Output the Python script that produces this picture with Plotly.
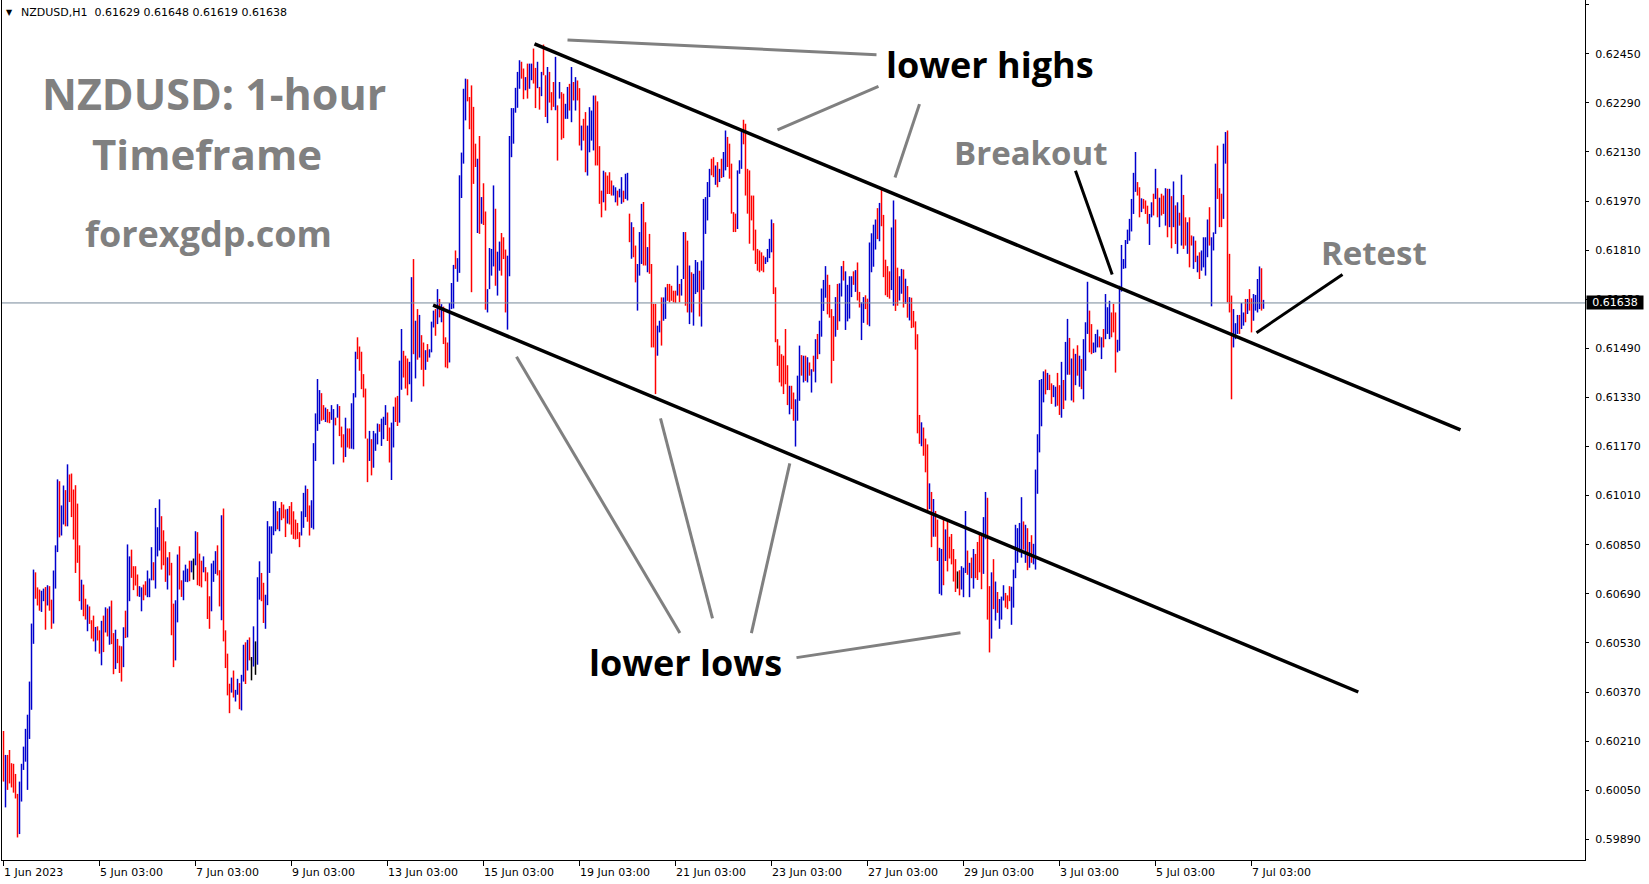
import plotly.graph_objects as go

# ---------------- data (bar high / low in price points, 1e-5) ----------------
highs = [
    60243, 60165, 60165, 60181, 60138, 60136, 60103, 60038, 60078, 60136,
    60192, 60250, 60296, 60404, 60593, 60769, 60760, 60711, 60704, 60700,
    60707, 60712, 60718, 60715, 60671, 60766, 60848, 61063, 61057, 60978,
    61043, 61028, 61112, 61079, 61082, 61030, 61044, 60984, 60848, 60736,
    60720, 60674, 60655, 60649, 60604, 60619, 60582, 60584, 60571, 60602,
    60619, 60646, 60642, 60649, 60668, 60562, 60573, 60543, 60521, 60519,
    60581, 60635, 60851, 60812, 60834, 60780, 60780, 60753, 60715, 60711,
    60720, 60731, 60766, 60740, 60842, 60793, 60970, 60907, 60998, 60943,
    60897, 60861, 60809, 60826, 60791, 60658, 60669, 60818, 60845, 60734,
    60766, 60785, 60772, 60798, 60798, 60805, 60894, 60891, 60821, 60798,
    60812, 60777, 60760, 60682, 60789, 60798, 60829, 60848, 60767, 60946,
    60968, 60571, 60495, 60397, 60417, 60440, 60377, 60413, 60399, 60426,
    60524, 60532, 60540, 60548, 60484, 60584, 60535, 60744, 60796, 60758,
    60726, 60687, 60927, 60910, 60910, 60992, 60992, 60959, 60970, 60989,
    60981, 60965, 60967, 60976, 60989, 60959, 60932, 60921, 60891, 60959,
    61019, 61043, 61032, 60978, 60995, 61181, 61278, 61390, 61354, 61344,
    61305, 61297, 61292, 61283, 61305, 61292, 61264, 61308, 61302, 61235,
    61210, 61264, 61229, 61229, 61311, 61344, 61479, 61526, 61496, 61479,
    61406, 61359, 61196, 61221, 61194, 61221, 61213, 61245, 61243, 61261,
    61267, 61305, 61281, 61232, 61248, 61300, 61330, 61335, 61450, 61553,
    61482, 61466, 61457, 61446, 61722, 61781, 61580, 61618, 61599, 61533,
    61509, 61484, 61504, 61487, 61577, 61613, 61618, 61683, 61651, 61634,
    61626, 61526, 61509, 61638, 61703, 61762, 61809, 61784, 62054, 62128,
    62336, 62369, 62367, 62309, 62347, 62277, 62157, 62108, 62182, 61983,
    62028, 61936, 61683, 61817, 61814, 62021, 61945, 61805, 61838, 61866,
    61852, 61812, 61792, 62182, 62273, 62273, 62339, 62391, 62429, 62424,
    62402, 62374, 62418, 62418, 62418, 62467, 62404, 62424, 62342, 62391,
    62480, 62380, 62407, 62391, 62325, 62358, 62440, 62282, 62358, 62325,
    62320, 62287, 62342, 62352, 62407, 62358, 62374, 62363, 62338, 62216,
    62238, 62260, 62216, 62276, 62265, 62314, 62314, 62295, 62149, 62004,
    62069, 62064, 62053, 62064, 62037, 62021, 62015, 62004, 62010, 62048,
    62004, 62059, 62062, 61929, 61901, 61885, 61825, 61765, 61869, 61961,
    61967, 61901, 61820, 61863, 61765, 61635, 61635, 61564, 61580, 61656,
    61656, 61689, 61700, 61700, 61694, 61678, 61678, 61760, 61700, 61716,
    61869, 61869, 61841, 61760, 61738, 61733, 61778, 61771, 61743, 61776,
    61977, 61983, 62032, 62075, 62108, 62113, 62086, 62097, 62075, 62108,
    62130, 62200, 62179, 62157, 62092, 61934, 61929, 62070, 62103, 62195,
    62235, 62222, 62075, 62070, 61988, 61988, 61877, 61814, 61809, 61803,
    61792, 61787, 61814, 61847, 61910, 61898, 61689, 61520, 61499, 61471,
    61466, 61553, 61435, 61368, 61368, 61346, 61324, 61401, 61499, 61468,
    61466, 61466, 61461, 61444, 61422, 61466, 61520, 61537, 61580, 61685,
    61713, 61758, 61730, 61697, 61618, 61595, 61657, 61700, 61702, 61758,
    61775, 61741, 61697, 61725, 61725, 61741, 61745, 61770, 61674, 61640,
    61657, 61663, 61652, 61835, 61865, 61893, 61910, 61947, 61964, 62011,
    61925, 61779, 61758, 61741, 61884, 61972, 61910, 61753, 61725, 61749,
    61747, 61717, 61693, 61657, 61655, 61612, 61578, 61536, 61273, 61249,
    61232, 61196, 61177, 61050, 61022, 60999, 60960, 60932, 60840, 60836,
    60938, 60900, 60926, 60876, 60885, 60836, 60803, 60763, 60767, 60780,
    60775, 60960, 60831, 60791, 60808, 60836, 60820, 60859, 60890, 60881,
    60940, 61022, 61003, 60715, 60760, 60803, 60730, 60696, 60673, 60681,
    60718, 60693, 60685, 60715, 60713, 60769, 60915, 60904, 60921, 61005,
    60926, 60915, 60904, 60859, 60881, 60853, 61095, 61210, 61387, 61390,
    61415, 61421, 61410, 61404, 61376, 61370, 61365, 61410, 61370, 61446,
    61387, 61511, 61586, 61524, 61457, 61489, 61472, 61500, 61466, 61455,
    61520, 61575, 61707, 61613, 61569, 61509, 61537, 61551, 61529, 61526,
    61553, 61667, 61624, 61645, 61607, 61635, 61607, 61518, 61694, 61827,
    61781, 61843, 61877, 61912, 61977, 62062, 62130, 62032, 62015, 61979,
    61977, 61972, 61955, 61928, 61966, 61994, 62075, 62012, 61981, 61994,
    61988, 62012, 62010, 62010, 61986, 62034, 61956, 61966, 61932, 62056,
    61990, 61917, 61901, 61917, 61858, 61855, 61841, 61792, 61803, 61809,
    61852, 61852, 61910, 61950, 61852, 61868, 62092, 62151, 62012, 61994,
    62157, 62195, 62200, 61798, 61662, 61618, 61572, 61599, 61599, 61638,
    61607, 61651, 61651, 61683, 61653, 61667, 61664, 61716, 61757, 61751,
    61648,
]

lows = [
    60078, 59994, 60051, 60072, 60059, 60042, 60023, 59896, 59907, 60013,
    60116, 60143, 60051, 60217, 60312, 60527, 60674, 60652, 60635, 60631,
    60666, 60573, 60652, 60635, 60576, 60593, 60707, 60826, 60874, 60880,
    60916, 60910, 60910, 60989, 60940, 60867, 60758, 60791, 60666, 60638,
    60617, 60606, 60568, 60592, 60544, 60535, 60502, 60538, 60495, 60457,
    60500, 60564, 60551, 60524, 60526, 60428, 60445, 60464, 60432, 60404,
    60451, 60546, 60548, 60666, 60742, 60702, 60717, 60682, 60680, 60633,
    60669, 60685, 60679, 60679, 60734, 60734, 60707, 60812, 60831, 60769,
    60783, 60729, 60704, 60750, 60555, 60451, 60473, 60597, 60704, 60680,
    60669, 60729, 60728, 60731, 60760, 60736, 60783, 60718, 60715, 60711,
    60760, 60731, 60608, 60576, 60633, 60729, 60755, 60750, 60649, 60604,
    60535, 60448, 60359, 60301, 60368, 60352, 60339, 60361, 60314, 60310,
    60404, 60396, 60440, 60473, 60408, 60453, 60426, 60459, 60671, 60666,
    60595, 60576, 60653, 60758, 60821, 60881, 60894, 60900, 60894, 60930,
    60936, 60875, 60919, 60916, 60883, 60869, 60867, 60869, 60842, 60880,
    60905, 60940, 60925, 60880, 60905, 60900, 61123, 61221, 61243, 61254,
    61257, 61250, 61248, 61246, 61257, 61112, 61239, 61264, 61204, 61167,
    61118, 61136, 61167, 61163, 61163, 61161, 61330, 61455, 61417, 61357,
    61330, 61196, 61054, 61123, 61076, 61101, 61156, 61177, 61218, 61172,
    61194, 61240, 61188, 61118, 61061, 61167, 61250, 61237, 61248, 61355,
    61395, 61359, 61337, 61373, 61316, 61471, 61392, 61453, 61460, 61420,
    61366, 61420, 61446, 61460, 61477, 61558, 61531, 61569, 61591, 61575,
    61504, 61428, 61425, 61444, 61618, 61620, 61749, 61707, 61736, 61980,
    62092, 62233, 62295, 62204, 61673, 62026, 62081, 61866, 61863, 61896,
    61892, 61616, 61607, 61683, 61727, 61757, 61694, 61662, 61743, 61727,
    61781, 61607, 61551, 61725, 62113, 62157, 62258, 62274, 62336, 62369,
    62302, 62331, 62304, 62336, 62364, 62353, 62273, 62338, 62268, 62312,
    62380, 62244, 62224, 62291, 62266, 62277, 62266, 62102, 62304, 62170,
    62175, 62238, 62238, 62265, 62227, 62298, 62265, 62298, 62151, 62135,
    62167, 62064, 62053, 62129, 62167, 62135, 62086, 62086, 61961, 61917,
    61966, 61939, 61993, 61993, 61988, 61988, 61966, 61955, 61982, 61961,
    61966, 61977, 61972, 61836, 61782, 61787, 61705, 61613, 61727, 61765,
    61760, 61760, 61738, 61733, 61493, 61493, 61341, 61466, 61542, 61499,
    61580, 61586, 61645, 61640, 61645, 61640, 61638, 61662, 61640, 61662,
    61716, 61629, 61607, 61569, 61607, 61564, 61667, 61673, 61594, 61561,
    61681, 61863, 61907, 61983, 62054, 62048, 62023, 62015, 62032, 62045,
    62048, 62070, 62081, 62043, 61929, 61869, 61869, 61879, 62059, 62075,
    62155, 61988, 61929, 61831, 61907, 61809, 61765, 61743, 61738, 61743,
    61738, 61765, 61771, 61784, 61803, 61667, 61510, 61433, 61379, 61366,
    61341, 61373, 61305, 61275, 61292, 61254, 61170, 61254, 61319, 61401,
    61379, 61384, 61379, 61401, 61346, 61414, 61379, 61455, 61471, 61528,
    61612, 61655, 61601, 61590, 61376, 61449, 61528, 61550, 61578, 61659,
    61711, 61550, 61578, 61587, 61657, 61697, 61674, 61646, 61623, 61517,
    61573, 61618, 61567, 61562, 61738, 61756, 61812, 61846, 61839, 61888,
    61722, 61663, 61657, 61652, 61680, 61629, 61612, 61629, 61646, 61668,
    61623, 61635, 61590, 61581, 61556, 61558, 61486, 61213, 61179, 61171,
    61140, 61086, 60960, 60966, 60842, 60876, 60876, 60797, 60690, 60685,
    60718, 60797, 60763, 60805, 60786, 60730, 60696, 60707, 60685, 60704,
    60679, 60758, 60752, 60679, 60741, 60707, 60741, 60735, 60760, 60705,
    60755, 60868, 60606, 60499, 60544, 60640, 60603, 60628, 60576, 60606,
    60668, 60645, 60640, 60666, 60589, 60645, 60741, 60791, 60825, 60808,
    60834, 60791, 60767, 60775, 60791, 60786, 60769, 61016, 61151, 61236,
    61314, 61340, 61354, 61354, 61309, 61331, 61300, 61303, 61273, 61264,
    61292, 61320, 61404, 61404, 61320, 61314, 61370, 61401, 61365, 61357,
    61324, 61417, 61537, 61477, 61471, 61475, 61477, 61493, 61493, 61455,
    61493, 61520, 61537, 61520, 61526, 61542, 61411, 61477, 61482, 61675,
    61749, 61751, 61830, 61841, 61871, 61928, 62000, 61988, 61917, 61934,
    61945, 61928, 61896, 61827, 61917, 61923, 61977, 61917, 61885, 61923,
    61928, 61890, 61852, 61885, 61816, 61885, 61830, 61798, 61890, 61825,
    61814, 61825, 61798, 61754, 61825, 61749, 61771, 61738, 61716, 61743,
    61754, 61727, 61787, 61825, 61627, 61809, 61863, 61977, 61885, 61885,
    61912, 62092, 61640, 61607, 61324, 61493, 61520, 61537, 61537, 61553,
    61564, 61575, 61602, 61613, 61542, 61580, 61613, 61607, 61618, 61613,
    61619,
]

# bar direction: r = bearish (red), b = bullish (blue), k = doji (black)
direction = "".join([
    "rbrrrrrrbb", "bbbbbbrrrb", "brbrrbbbrb", "brbrrrrrrb", "rrbrrrbrrb",
    "rbrbrrbrrr", "brbbrrrrbb", "rrbbbrbbbr", "rrbrrrbbrr", "bbbrbkbrrr",
    "brrrbbbrrb", "rrrrbrbbrb", "brbrkbkbbr", "rbbbbbbrbr", "rrbrrrrrr",
    "bbbrrbbbbb", "rrbrrbbrbr", "rrbrrbbbrr", "rrrrbrbbbr", "bbbrrbbrrb",
    "brrrbbrbrb", "rrbrbbbrbr", "brrrbbbrbb", "bbbrrrrrbr", "brrbbbbrbb",
    "rrrbbbbbbb", "rrbrbbrrbr", "brrbrrrbrb",
    "rrbbrbrbrr", "brrbbbbrrr", "rbrrrrbbrb", "brbb",
    "rbrrbbbrrb", "rrrrbbrbbr", "rrrrbrbbrr", "brbbbrbbbb", "brrbrbrbbr",
    "rrrrbbbrrr", "rrrrrrrrbb", "bbrrrrrrrr", "brrbbbrbrb", "rbrbrb",
    "bbbrrrrbrb", "brbbbbrbrr", "bbrrbbbbrb", "rrrrrbbrrb", "brbrbrrrrr",
    "brrrbrbrrb", "brbrrrrrkr", "bbbrbrbrrr", "rbbrrbrbrb", "bbrrrbbbbb",
    "brbrbrbbbb", "bbrbrrbbrr", "brbbrbrbrb",
    "rbbbrrbbbr", "brbbbrrrbb", "bbbbbbbbrr", "brrrbbrbrb", "rrbrbrbrbr",
    "brrbrrbrbr", "bbbbrbbbrr", "rbbrrrbbbr", "bbrbrrbbbb", "rb",
])

date_labels = ["1 Jun 2023", "5 Jun 03:00", "7 Jun 03:00", "9 Jun 03:00",
               "13 Jun 03:00", "15 Jun 03:00", "19 Jun 03:00", "21 Jun 03:00",
               "23 Jun 03:00", "27 Jun 03:00", "29 Jun 03:00", "3 Jul 03:00",
               "5 Jul 03:00", "7 Jul 03:00"]
date_label_bars = [0, 48, 96, 144, 192, 240, 288, 336, 384, 432, 480, 528, 576, 624]

price_ticks = ["0.59890", "0.60050", "0.60210", "0.60370", "0.60530", "0.60690",
               "0.60850", "0.61010", "0.61170", "0.61330", "0.61490", "0.61650",
               "0.61810", "0.61970", "0.62130", "0.62290", "0.62450", "0.62610"]

last_bar = {"open": "0.61629", "high": "0.61648", "low": "0.61619", "close": "0.61638"}
current_price = 0.61638

assert len(highs) == len(lows) == len(direction)

# ---------------- layout geometry ----------------
W, H = 1649, 884
ML, MR, MT, MB = 2, 64, 0, 24
PW, PH = W - ML - MR, H - MT - MB
X_RANGE = [-0.75, 790.75]
Y_RANGE = [0.598225, 0.626253]


def fx(px):
    return (px - ML) / PW


def fy(py):
    return 1 - (py - MT) / PH


fig = go.Figure()

bar_colors = {"r": "#ff0000", "b": "#0000cd", "k": "#000000"}
for key, col in bar_colors.items():
    xs, ys = [], []
    for i, (h, l, d) in enumerate(zip(highs, lows, direction)):
        if d != key:
            continue
        xs += [i, i, None]
        ys += [l / 1e5, h / 1e5, None]
    fig.add_trace(go.Scatter(x=xs, y=ys, mode="lines",
                             line=dict(color=col, width=1.5),
                             hoverinfo="skip", showlegend=False))

shapes = []
# current price line
shapes.append(dict(type="line", xref="paper", yref="y", x0=0, x1=1,
                   y0=current_price, y1=current_price,
                   line=dict(color="#778899", width=1)))
# channel lines
for (x0, y0), (x1, y1) in [((265.5, 0.62482), (728.5, 0.61224)),
                           ((214.8, 0.61631), (677.4, 0.60370))]:
    shapes.append(dict(type="line", xref="x", yref="y", x0=x0, y0=y0, x1=x1, y1=y1,
                       line=dict(color="black", width=3.5)))
# grey pointer lines
grey_lines = [((282, 0.62495), (436.5, 0.62447)),
              ((387, 0.62202), (437.5, 0.62344)),
              ((445.75, 0.62047), (458, 0.62286)),
              ((256.5, 0.61463), (338.2, 0.60562)),
              ((328.5, 0.61262), (354.5, 0.60610)),
              ((393.15, 0.61115), (373.95, 0.60562)),
              ((396.5, 0.60482), (478.5, 0.60563))]
for (x0, y0), (x1, y1) in grey_lines:
    shapes.append(dict(type="line", xref="x", yref="y", x0=x0, y0=y0, x1=x1, y1=y1,
                       line=dict(color="#808080", width=3)))
# black pointer lines
for (x0, y0), (x1, y1) in [((536, 0.62069), (554.35, 0.61731)),
                           ((626.5, 0.61541), (669.5, 0.61731))]:
    shapes.append(dict(type="line", xref="x", yref="y", x0=x0, y0=y0, x1=x1, y1=y1,
                       line=dict(color="black", width=3)))

annotations = []
BIG = "Open Sans, DejaVu Sans, sans-serif"
GREY = "#808080"


def big_text(text, cx, cy, size, color):
    annotations.append(dict(text="<b>%s</b>" % text, xref="paper", yref="paper",
                            x=fx(cx), y=fy(cy), xanchor="center", yanchor="middle",
                            showarrow=False, font=dict(family=BIG, size=size, color=color)))


big_text("NZDUSD: 1-hour", 214, 93, 43, GREY)
big_text("Timeframe", 207, 154, 42, GREY)
big_text("forexgdp.com", 208, 233, 36, GREY)
big_text("lower highs", 990, 64, 36, "black")
big_text("Breakout", 1031, 152, 33, GREY)
big_text("Retest", 1374, 252, 33, GREY)
big_text("lower lows", 685, 662, 36, "black")

SMALL = dict(family="DejaVu Sans, sans-serif", size=11, color="black")
# header
annotations.append(dict(text="\u25BC", xref="paper", yref="paper", x=fx(4), y=fy(13),
                        xanchor="left", yanchor="middle", showarrow=False,
                        font=dict(family="DejaVu Sans", size=8, color="black")))
annotations.append(dict(text="NZDUSD,H1\u00a0\u00a0%s %s %s %s" % (
    last_bar["open"], last_bar["high"], last_bar["low"], last_bar["close"]),
    xref="paper", yref="paper", x=fx(19), y=fy(13), xanchor="left", yanchor="middle",
    showarrow=False, font=SMALL))
# time labels
for lab, b in zip(date_labels, date_label_bars):
    annotations.append(dict(text=lab, xref="x", yref="paper", x=b, y=0, yshift=-12,
                            xshift=-2, xanchor="left", yanchor="middle",
                            showarrow=False, font=SMALL))
# current price label
annotations.append(dict(text="%.5f" % current_price, xref="paper", yref="y", x=1,
                        y=current_price, xanchor="left", yanchor="middle", xshift=1,
                        showarrow=False, bgcolor="black", width=54, height=11,
                        borderpad=1, font=dict(family="DejaVu Sans", size=11, color="white")))

fig.update_layout(
    width=W, height=H,
    margin=dict(l=ML, r=MR, t=MT, b=MB),
    paper_bgcolor="white", plot_bgcolor="white",
    shapes=shapes, annotations=annotations,
    xaxis=dict(range=X_RANGE, showgrid=False, zeroline=False, showline=True,
               linecolor="black", linewidth=1, ticks="outside", ticklen=5,
               tickcolor="black", tickvals=date_label_bars, showticklabels=False,
               fixedrange=True),
    yaxis=dict(range=Y_RANGE, side="right", showgrid=False, zeroline=False,
               showline=True, mirror=True, linecolor="black", linewidth=1,
               ticks="outside", ticklen=3, tickcolor="black",
               tickvals=[float(t) for t in price_ticks], ticktext=price_ticks,
               tickfont=SMALL, ticklabelstandoff=4, fixedrange=True),
)

post = ("document.body.style.margin='0px';"
        "document.body.style.overflow='hidden';")

fig.write_html("out.html", post_script=post, config={"displayModeBar": False})
